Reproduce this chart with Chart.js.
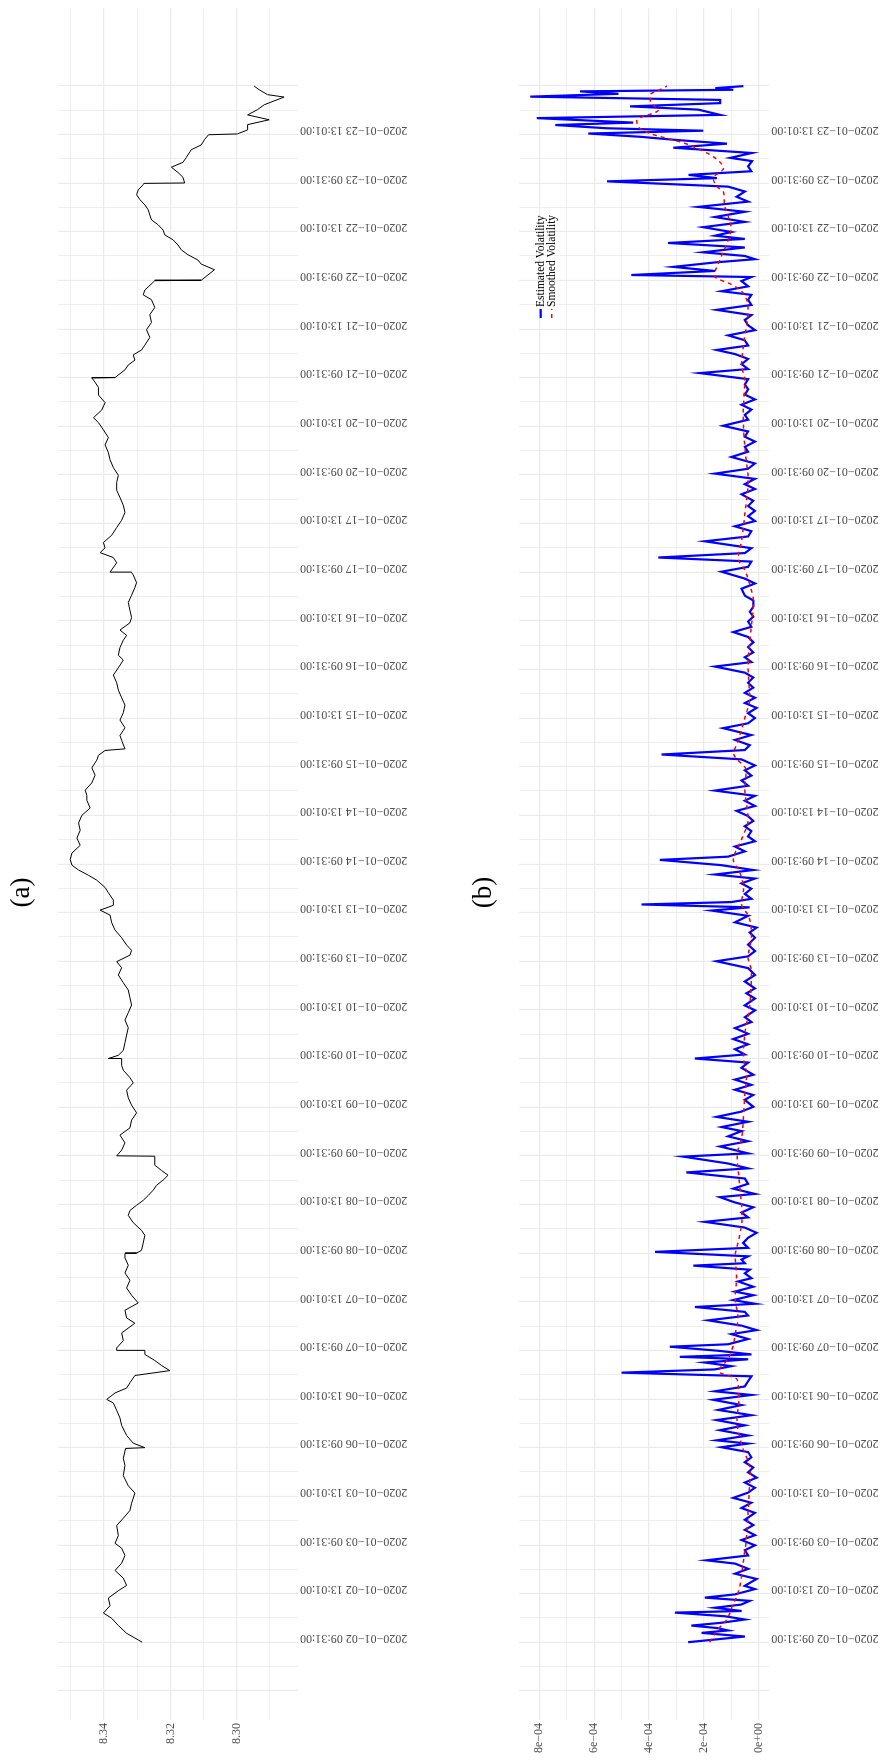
<!DOCTYPE html>
<html>
<head>
<meta charset="utf-8">
<title>Price and volatility</title>
<script src="https://cdn.jsdelivr.net/npm/chart.js@4.4.1/dist/chart.umd.min.js"></script>
<style>
  html, body { margin: 0; padding: 0; background: #ffffff; }
  body { width: 889px; height: 1764px; overflow: hidden; position: relative; }
  /* landscape figure turned a quarter turn counter-clockwise onto the portrait page */
  #figure {
    position: absolute; left: 0; top: 0;
    width: 1764px; height: 889px;
    transform-origin: 0 0;
    transform: translate(0px, 1764px) rotate(-90deg);
    background: #ffffff;
  }
  #figure canvas { position: absolute; left: 0; }
  #priceCanvas { top: 0; }
  #volCanvas { top: 440px; }
</style>
</head>
<body>
<div id="figure">
  <canvas id="priceCanvas" width="1764" height="440"></canvas>
  <canvas id="volCanvas" width="1764" height="449"></canvas>
</div>
<script>
// ---- session tick labels (one every 120 trading minutes) ----
const tickLabels = [
  '2020-01-02 09:31:00', '2020-01-02 13:01:00',
  '2020-01-03 09:31:00', '2020-01-03 13:01:00',
  '2020-01-06 09:31:00', '2020-01-06 13:01:00',
  '2020-01-07 09:31:00', '2020-01-07 13:01:00',
  '2020-01-08 09:31:00', '2020-01-08 13:01:00',
  '2020-01-09 09:31:00', '2020-01-09 13:01:00',
  '2020-01-10 09:31:00', '2020-01-10 13:01:00',
  '2020-01-13 09:31:00', '2020-01-13 13:01:00',
  '2020-01-14 09:31:00', '2020-01-14 13:01:00',
  '2020-01-15 09:31:00', '2020-01-15 13:01:00',
  '2020-01-16 09:31:00', '2020-01-16 13:01:00',
  '2020-01-17 09:31:00', '2020-01-17 13:01:00',
  '2020-01-20 09:31:00', '2020-01-20 13:01:00',
  '2020-01-21 09:31:00', '2020-01-21 13:01:00',
  '2020-01-22 09:31:00', '2020-01-22 13:01:00',
  '2020-01-23 09:31:00', '2020-01-23 13:01:00'
];
const minutesPerLabel = 120;
const lastMinute = 3839;

// ---- panel (a): log price, by trading-minute index ----
const priceTime = [
  0,22,41,59,72,90,109,127,140,158,177,195,214,232,244,263,288,306,325,343,368,386,411,436,454,478,480,
  491,510,535,553,572,590,599,615,627,640,658,670,683,695,710,719,720,726,744,763,787,800,819,837,856,
  874,893,911,930,948,959,960,967,985,1004,1016,1035,1053,1065,1078,1090,1102,1115,1127,1140,1152,1164,
  1177,1199,1200,1214,1232,1251,1269,1288,1306,1325,1343,1362,1380,1393,1411,1423,1439,1440,1448,1460,
  1479,1498,1516,1535,1553,1572,1590,1609,1627,1646,1664,1679,1695,1707,1720,1738,1757,1775,1794,1806,
  1818,1831,1849,1862,1880,1892,1905,1917,1931,1947,1966,1984,2003,2021,2040,2058,2077,2089,2102,2120,
  2139,2157,2176,2188,2200,2204,2225,2237,2256,2275,2293,2312,2330,2349,2367,2386,2404,2423,2435,2454,
  2472,2484,2497,2515,2528,2546,2565,2583,2602,2614,2633,2639,2640,2663,2676,2688,2700,2713,2731,2750,
  2768,2787,2805,2824,2842,2861,2879,2898,2917,2935,2954,2972,2991,3009,3021,3040,3058,3077,3096,3114,
  3119,3120,3139,3151,3163,3176,3188,3200,3219,3238,3256,3275,3293,3312,3324,3336,3355,3359,3360,3386,
  3400,3410,3423,3435,3447,3460,3472,3484,3497,3509,3521,3534,3546,3559,3571,3583,3596,3599,3600,3614,
  3626,3639,3651,3663,3682,3694,3707,3719,3721,3731,3744,3756,3768,3781,3793,3812,3818,3830,3839
];
const priceValue = [
  8.3285,8.3332,8.3357,8.3377,8.3402,8.3382,8.3387,8.3357,8.3332,8.3342,8.3367,8.3347,8.3337,8.3347,8.3367,
  8.3357,8.3362,8.3342,8.3322,8.3317,8.3307,8.3327,8.3342,8.3337,8.3342,8.3335,8.3277,
  8.3312,8.3332,8.3347,8.3352,8.3362,8.3372,8.3392,8.3367,8.3332,8.3322,8.3307,8.3202,8.3227,8.3247,8.3277,
  8.3277,8.3362,8.3362,8.3342,8.3347,8.3307,8.3332,8.3337,8.3297,8.3317,
  8.3332,8.3322,8.3337,8.3327,8.3337,8.3337,8.3302,8.3287,8.3282,8.3277,8.3287,8.3312,8.3327,8.3322,8.3302,
  8.3282,8.3267,8.3252,8.3242,8.3222,8.3207,8.3227,
  8.3247,8.3247,8.3362,8.3347,8.3337,8.3352,8.3322,8.3317,8.3302,8.3317,8.3327,8.3332,8.3312,8.3322,8.3342,
  8.3347,8.3347,8.3387,8.3357,8.3342,
  8.3337,8.3332,8.3327,8.3337,8.3327,8.3317,8.3322,8.3327,8.3342,8.3357,8.3347,8.3362,8.3322,8.3317,8.3332,
  8.3347,8.3367,8.3377,8.3382,8.3412,
  8.3372,8.3372,8.3387,8.3397,8.3422,8.3447,8.3477,8.3497,8.3502,8.3497,8.3472,8.3482,8.3472,8.3477,8.3467,
  8.3442,8.3452,8.3452,8.3457,8.3437,
  8.3427,8.3437,8.3422,8.3417,8.3397,8.3337,8.3347,8.3352,8.3337,8.3352,8.3342,8.3337,8.3347,8.3357,8.3362,
  8.3372,8.3357,8.3342,8.3357,8.3352,
  8.3342,8.3332,8.3352,8.3322,8.3317,8.3322,8.3327,8.3317,8.3307,8.3302,8.3312,8.3317,8.3382,8.3362,8.3372,
  8.3412,8.3397,8.3402,8.3377,8.3362,
  8.3347,8.3337,8.3342,8.3352,8.3362,8.3362,8.3357,8.3372,8.3382,8.3387,8.3397,8.3387,8.3402,8.3417,8.3432,
  8.3407,8.3397,8.3417,8.3417,8.3432,
  8.3437,8.3367,8.3337,8.3327,8.3307,8.3312,8.3287,8.3277,8.3262,8.3272,8.3257,8.3262,8.3247,8.3257,8.3282,
  8.3277,8.3252,8.3247,8.3107,8.3067,
  8.3107,8.3117,8.3147,8.3167,8.3177,8.3192,8.3217,8.3222,8.3237,8.3257,8.3262,8.3267,8.3277,8.3292,8.3302,
  8.3297,8.3282,8.3280,8.3157,8.3162,
  8.3177,8.3197,8.3162,8.3152,8.3137,8.3107,8.3097,8.3085,8.2998,8.2967,8.2967,8.2902,8.2967,8.2937,8.2917,
  8.2857,8.2907,8.2932,8.2947
];
const priceTicks = [8.29, 8.30, 8.31, 8.32, 8.33, 8.34, 8.35];
const priceTickLabels = ['8.30', '8.32', '8.34'];

// ---- panel (b): estimated and smoothed volatility (units of 1e-4) ----
const volScale = 1e-4;
const volTime = [
  0,14,23,29,35,41,48,56,64,73,77,85,93,102,110,118,131,139,156,169,181,194,202,214,227,239,252,264,277,289,
  302,319,331,344,356,369,381,394,406,419,431,444,456,469,481,490,498,510,523,535,548,560,573,585,598,610,
  619,631,644,656,665,673,681,690,698,704,710,719,729,735,748,760,770,781,794,806,815,827,835,844,856,865,
  877,890,898,910,919,929,935,944,952,963,973,985,998,1010,1023,1037,1048,1060,1073,1085,1098,1106,1119,
  1131,1144,1159,1169,1181,1198,1206,1223,1236,1248,1261,
  1271,1284,1296,1309,1321,1338,1350,1363,1375,1388,1400,1417,1430,1440,1450,1463,1475,1488,1501,1515,1530,
  1542,1559,1571,1588,1601,1613,1630,1646,1663,1680,1692,1705,1721,1738,1751,1763,1776,1792,1805,1813,1820,
  1826,1834,1846,1859,1872,1884,1894,1905,1917,1930,1938,1951,1963,1976,1988,2001,2013,2026,2038,2051,2063,
  2076,2088,2101,2113,2126,2138,2151,2163,2178,2190,2201,2213,2226,2238,2255,2267,2280,2292,2305,2317,2330,
  2342,2355,2367,2380,2392,2407,2418,2430,2442,2455,2467,2480,2492,2505,2518,2530,2542,2555,
  2570,2582,2599,2612,2624,2641,2653,2666,2676,2687,2699,2716,2728,2741,2753,2766,2778,2791,2803,2816,2832,
  2845,2857,2870,2883,2895,2908,2924,2937,2949,2962,2974,2987,3001,3016,3028,3041,3053,3066,3078,3091,3103,
  3116,3131,3141,3153,3166,3178,3188,3199,3212,3224,3237,3249,3262,3274,3287,3299,3312,3324,3333,3345,3358,
  3368,3373,3383,3393,3404,3412,3420,3429,3441,3452,3462,3470,3479,3491,3504,3516,3529,3541,3554,3566,3579,
  3591,3604,3612,3620,3629,3641,3654,3662,3674,3687,3697,3706,3714,3722,3729,3735,3743,3749,3760,3768,3781,
  3789,3797,3805,3813,3820,3826,3830,3834,3839
];
const volValue = [
  2.57,0.50,2.08,1.11,1.53,2.45,1.35,0.50,1.23,3.05,0.62,1.59,0.62,0.32,1.96,0.86,0.13,0.50,0.07,0.86,0.38,
  0.86,1.90,0.38,0.50,0.13,0.62,0.13,0.50,0.19,0.50,0.13,0.62,0.26,0.92,0.38,0.13,0.50,0.07,0.38,0.19,0.50,
  0.26,0.38,1.35,0.38,1.53,0.38,1.41,0.50,1.53,0.26,1.47,0.62,1.65,0.26,1.59,0.50,0.38,0.26,5.00,1.59,0.99,
  1.96,0.38,2.87,0.26,1.47,3.24,1.11,0.38,0.99,0.07,0.62,1.84,0.38,0.50,2.32,0.13,0.92,0.19,0.86,0.19,0.74,
  0.26,0.50,0.32,2.38,0.50,0.62,0.38,3.78,0.38,0.56,0.38,0.07,0.50,1.96,0.38,0.62,0.19,0.86,1.41,0.13,0.92,
  0.38,0.50,2.63,0.38,1.11,2.75,0.38,1.41,0.38,1.11,0.62,
  1.35,0.38,1.53,0.62,0.19,0.50,0.19,0.86,0.26,0.86,0.19,0.62,0.38,2.32,0.50,0.86,0.38,0.92,0.38,0.86,0.26,
  0.50,0.13,0.50,0.13,0.44,0.13,0.50,0.13,0.38,1.53,0.38,0.13,0.38,0.13,0.32,0.07,0.86,0.38,1.72,0.32,4.27,
  0.99,0.26,0.50,0.26,0.62,0.13,1.59,0.19,1.35,3.60,1.11,0.50,0.86,0.13,0.38,0.26,0.50,0.19,0.38,0.80,0.13,
  0.50,0.13,1.59,0.38,0.62,0.26,0.50,0.13,0.62,3.54,0.50,0.32,0.86,0.26,1.29,0.38,0.13,0.38,0.07,0.50,0.13,
  0.50,0.19,0.38,0.19,0.50,1.59,0.26,0.50,0.19,0.38,0.19,0.38,0.92,0.26,0.38,0.19,0.32,0.19,
  0.19,0.50,0.62,0.13,0.50,1.35,0.38,0.26,3.66,0.50,0.26,1.96,0.38,0.26,0.86,0.13,0.38,0.13,0.38,0.19,0.62,
  0.13,0.50,0.13,1.59,0.38,0.13,0.99,0.38,0.50,0.13,0.50,0.38,1.29,0.38,0.50,0.26,0.62,0.13,0.50,0.38,0.50,
  0.38,2.14,0.38,0.62,0.38,0.86,1.53,0.38,0.50,1.11,0.13,0.38,0.50,0.26,1.53,0.26,0.38,0.26,1.35,0.38,0.62,
  0.26,4.64,1.59,3.11,1.59,0.13,0.50,2.02,0.50,3.30,0.50,1.59,0.99,2.02,0.50,1.59,0.50,2.20,0.38,0.80,0.50,
  1.11,5.53,1.52,2.55,0.26,0.38,0.24,1.03,0.24,3.11,1.15,2.98,4.32,6.21,2.02,5.54,7.42,4.57,8.09,1.40,2.20,
  4.69,1.40,1.40,8.33,5.11,6.51,0.92,1.58,0.55
];
const smoothTime = [
  0,30,57,90,113,150,197,250,320,370,419,450,476,510,542,599,648,668,700,725,760,800,850,900,950,1000,1050,
  1100,1150,1200,1250,1300,1350,1400,1446,1500,1571,1655,1690,1740,1790,1821,1860,1905,1930,1980,2030,2105,
  2150,2192,2225,2280,2330,2405,2480,2568,2616,2645,2674,2716,2782,2866,2949,3033,3116,3150,3200,3283,3333,
  3350,3370,3420,3460,3490,3516,3550,3578,3590,3612,3636,3665,3682,3699,3722,3740,3755,3780,3800,3818,3830,
  3839
];
const smoothValue = [
  1.78,1.50,1.15,0.95,0.79,0.65,0.56,0.45,0.38,0.34,0.30,0.40,0.56,0.70,0.79,0.72,0.78,1.45,1.10,0.95,0.85,
  0.75,0.85,0.80,0.85,0.70,0.60,0.65,0.72,0.78,0.60,0.55,0.50,0.44,0.55,0.50,0.32,0.26,0.38,0.26,0.35,0.62,
  0.55,0.72,0.92,0.62,0.38,0.50,0.45,0.90,0.74,0.50,0.32,0.38,0.30,0.19,0.35,0.50,0.74,0.62,0.50,0.38,0.50,
  0.56,0.50,0.62,0.55,0.38,0.62,1.00,1.60,1.35,1.10,1.00,1.10,1.25,1.28,1.50,1.65,1.28,1.65,2.13,2.74,3.95,
  4.40,4.44,3.65,3.95,3.95,3.60,3.34
];
const volTicks = [0, 1, 2, 3, 4, 5, 6, 7, 8];
const volTickLabels = ['0e+00', '2e-04', '4e-04', '6e-04', '8e-04'];

const seriesNames = ['Estimated Volatility', 'Smoothed Volatility'];
const panelTitles = ['(a)', '(b)'];

// ---- shared styling ----
const SERIF = "'Liberation Serif', 'Times New Roman', serif";
const GRID = '#EBEBEB';
const AXIS_TEXT = '#4D4D4D';
const toMinusSign = s => s.replace(/-/g, '\u2212');   // typeset hyphens as minus signs

Chart.defaults.font.family = SERIF;
Chart.defaults.font.size = 12;
Chart.defaults.color = AXIS_TEXT;

function timeAxis(axisHeight) {
  const pad = (lastMinute) * 0.05;
  return {
    type: 'linear',
    position: 'bottom',
    min: -pad,
    max: lastMinute + pad,
    afterBuildTicks(scale) {
      const t = [];
      for (let v = -minutesPerLabel; v <= lastMinute + 1; v += minutesPerLabel / 2) t.push({ value: v });
      scale.ticks = t;
    },
    afterFit(scale) { scale.height = axisHeight; },
    border: { display: false },
    grid: {
      color: GRID,
      drawTicks: false,
      lineWidth: c => (c.tick && c.tick.value % minutesPerLabel === 0) ? 1.2 : 0.8
    },
    ticks: {
      autoSkip: false,
      minRotation: 90,
      maxRotation: 90,
      padding: 2,
      labelOffset: 4,
      color: AXIS_TEXT,
      font: { family: SERIF, size: 12 },
      callback(value) {
        const k = value / minutesPerLabel;
        if (Number.isInteger(k) && k >= 0 && k < tickLabels.length) return toMinusSign(tickLabels[k]);
        return '';
      }
    }
  };
}

function valueAxis(min, max, ticks, labelFor) {
  return {
    type: 'linear',
    position: 'left',
    min, max,
    afterBuildTicks(scale) { scale.ticks = ticks.map(v => ({ value: v })); },
    afterFit(scale) { scale.width = 44; },
    border: { display: false },
    grid: {
      color: GRID,
      drawTicks: false,
      lineWidth: c => (c.tick && labelFor(c.tick.value) !== '') ? 1.2 : 0.8
    },
    ticks: {
      autoSkip: false,
      padding: 3,
      color: AXIS_TEXT,
      font: { family: SERIF, size: 12 },
      callback: v => labelFor(v)
    }
  };
}

// panel caption drawn above each plot
function captionPlugin(text, x, y) {
  return {
    id: 'caption',
    afterDraw(chart) {
      const ctx = chart.ctx;
      ctx.save();
      ctx.fillStyle = '#000000';
      ctx.font = '27px ' + SERIF;
      ctx.textAlign = 'center';
      ctx.textBaseline = 'middle';
      ctx.fillText(text, x, y);
      ctx.restore();
    }
  };
}

// legend placed inside the upper right of the volatility panel
const volLegend = {
  id: 'volLegend',
  afterDraw(chart) {
    const ctx = chart.ctx;
    const x0 = 1446, rowY = [100.7, 111.7];
    const order = [1, 0]; // dataset index for each legend row
    ctx.save();
    ctx.font = '11.5px ' + SERIF;
    ctx.textAlign = 'left';
    ctx.textBaseline = 'middle';
    order.forEach((di, row) => {
      const ds = chart.data.datasets[di];
      ctx.strokeStyle = ds.borderColor;
      ctx.lineWidth = ds.borderWidth;
      ctx.setLineDash(ds.borderDash || []);
      ctx.beginPath();
      ctx.moveTo(x0, rowY[row]);
      ctx.lineTo(x0 + 9, rowY[row]);
      ctx.stroke();
      ctx.setLineDash([]);
      ctx.fillStyle = '#000000';
      ctx.fillText(ds.label, x0 + 11, rowY[row]);
    });
    ctx.restore();
  }
};

const baseOptions = {
  responsive: false,
  animation: false,
  devicePixelRatio: 1,
  events: [],
  plugins: { legend: { display: false }, tooltip: { enabled: false }, title: { display: false } },
  elements: { point: { radius: 0 }, line: { tension: 0 } }
};

// ---- panel (a) ----
new Chart(document.getElementById('priceCanvas'), {
  type: 'line',
  data: {
    datasets: [{
      label: 'Price',
      data: priceTime.map((t, i) => ({ x: t, y: priceValue[i] })),
      borderColor: '#000000',
      borderWidth: 1,
      fill: false
    }]
  },
  options: Object.assign({}, baseOptions, {
    parsing: false,
    layout: { autoPadding: false, padding: { left: 0, right: 8.3, top: 58, bottom: 0 } },
    scales: {
      x: timeAxis(142),
      y: valueAxis(8.2815, 8.3539, priceTicks, v => {
        const s = v.toFixed(2);
        return priceTickLabels.includes(s) ? s : '';
      })
    }
  }),
  plugins: [captionPlugin(panelTitles[0], 871.5, 22)]
});

// ---- panel (b) ----
new Chart(document.getElementById('volCanvas'), {
  type: 'line',
  data: {
    datasets: [{
      label: seriesNames[1],
      data: smoothTime.map((t, i) => ({ x: t, y: smoothValue[i] * volScale })),
      borderColor: '#FF0000',
      borderWidth: 1.5,
      borderDash: [4, 4],
      cubicInterpolationMode: 'monotone',
      fill: false,
      order: 0
    }, {
      label: seriesNames[0],
      data: volTime.map((t, i) => ({ x: t, y: volValue[i] * volScale })),
      borderColor: '#0000FF',
      borderWidth: 2.2,
      fill: false,
      order: 1
    }]
  },
  options: Object.assign({}, baseOptions, {
    parsing: false,
    layout: { autoPadding: false, padding: { left: 0, right: 8.3, top: 79.3, bottom: 0 } },
    scales: {
      x: timeAxis(119.7),
      y: valueAxis(-0.394 * volScale, 8.73 * volScale, volTicks.map(k => k * volScale), v => {
        const k = Math.round(v / volScale);
        return (k % 2 === 0) ? toMinusSign(volTickLabels[k / 2]) : '';
      })
    }
  }),
  plugins: [captionPlugin(panelTitles[1], 871.5, 43.5), volLegend]
});
</script>
</body>
</html>
